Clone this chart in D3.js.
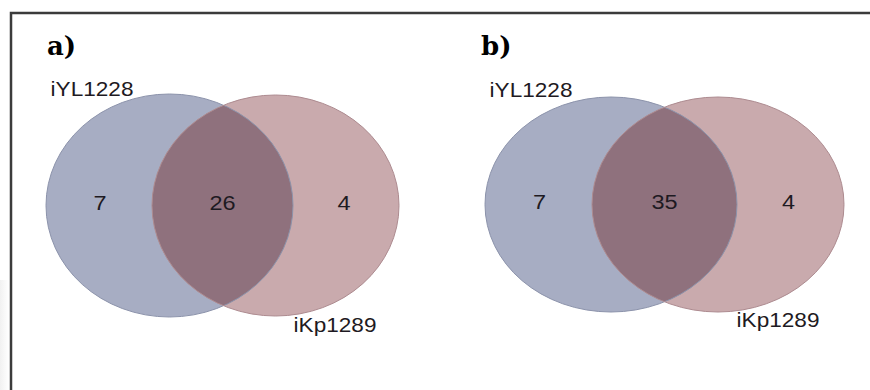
<!DOCTYPE html>
<html>
<head>
<meta charset="utf-8">
<script src="https://cdn.jsdelivr.net/npm/d3@7"></script>
<style>
  html, body { margin: 0; padding: 0; background: #fff; }
  svg { display: block; }
  .num, .setname { font-family: "Liberation Sans", Arial, sans-serif; fill: #1e1a22; }
  .panel-tag { font-family: "DejaVu Serif", serif; font-weight: bold; fill: #000; }
</style>
</head>
<body>
<svg id="chart" width="870" height="390"></svg>
<script>
// data
const panels = ['a)', 'b)'];
const setNames = ['iYL1228', 'iKp1289'];
const onlyLeft = [7, 7];
const shared = [26, 35];
const onlyRight = [4, 4];

// colours
const blue = '#a7adc3';
const red = '#c9aaad';
const overlap = '#8f717d';

// layout per panel (pixel geometry of the two ellipses)
const layout = [
  { left: { cx: 169.5, cy: 205.5, rx: 123.5, ry: 111.5 }, right: { cx: 275.5, cy: 205.5, rx: 123.5, ry: 110.5 },
    tag: [47, 55], nameL: [92, 96], nameR: [335, 332], numY: 210 },
  { left: { cx: 611, cy: 204.5, rx: 126, ry: 107.5 }, right: { cx: 718, cy: 204.5, rx: 126, ry: 107.5 },
    tag: [481, 55], nameL: [531, 97], nameR: [778, 327], numY: 209 }
];

const svg = d3.select('#chart');
const defs = svg.append('defs');

// faint shadow at lower left
const grad = defs.append('linearGradient').attr('id', 'shade').attr('x1', 0).attr('x2', 1);
grad.append('stop').attr('offset', 0).attr('stop-color', '#f1f1f1');
grad.append('stop').attr('offset', 1).attr('stop-color', '#fff');
svg.append('rect').attr('x', 0).attr('y', 280).attr('width', 9).attr('height', 110).attr('fill', 'url(#shade)');

// frame
svg.append('path')
  .attr('d', d3.line()([[11, 390], [11, 13], [870, 13]]))
  .attr('fill', 'none')
  .attr('stroke', '#3b3b3b')
  .attr('stroke-width', 2.5);

panels.forEach((tag, i) => {
  const L = layout[i];
  const g = svg.append('g');
  const clipId = 'clip' + i;
  defs.append('clipPath').attr('id', clipId)
    .append('ellipse')
    .attr('cx', L.left.cx).attr('cy', L.left.cy).attr('rx', L.left.rx).attr('ry', L.left.ry);

  const ell = (sel, e) => sel.attr('cx', e.cx).attr('cy', e.cy).attr('rx', e.rx).attr('ry', e.ry);

  ell(g.append('ellipse'), L.left).attr('fill', blue);
  ell(g.append('ellipse'), L.right).attr('fill', red);
  ell(g.append('ellipse'), L.right).attr('fill', overlap).attr('clip-path', `url(#${clipId})`);
  ell(g.append('ellipse'), L.left).attr('fill', 'none').attr('stroke', '#8c93ab').attr('stroke-width', 1);
  ell(g.append('ellipse'), L.right).attr('fill', 'none').attr('stroke', '#ad8b90').attr('stroke-width', 1);

  // region x positions from the ellipse geometry
  const xs = d3.scaleLinear()
    .domain([0, 1])
    .range([L.left.cx - L.left.rx, L.right.cx + L.right.rx]);
  const lEdge = L.left.cx + L.left.rx, rEdge = L.right.cx - L.right.rx;
  const numX = [
    (L.left.cx - L.left.rx + rEdge) / 2 + 1,
    (rEdge + lEdge) / 2,
    (lEdge + L.right.cx + L.right.rx) / 2 - 2
  ].map(v => xs(xs.invert(v)));
  const vals = [onlyLeft[i], shared[i], onlyRight[i]];

  const text = (x, y, s, cls, size, sx) => g.append('text')
    .attr('class', cls)
    .attr('text-anchor', cls === 'panel-tag' ? 'start' : 'middle')
    .attr('transform', `translate(${x},${y}) scale(${sx},1)`)
    .style('font-size', size + 'px')
    .text(s);

  vals.forEach((v, k) => text(numX[k], L.numY, v, 'num', 21, 1.12));
  text(L.nameL[0], L.nameL[1], setNames[0], 'setname', 20, 1.13);
  text(L.nameR[0], L.nameR[1], setNames[1], 'setname', 20, 1.13);
  text(L.tag[0], L.tag[1], tag, 'panel-tag', 26, 1);
});
</script>
</body>
</html>
